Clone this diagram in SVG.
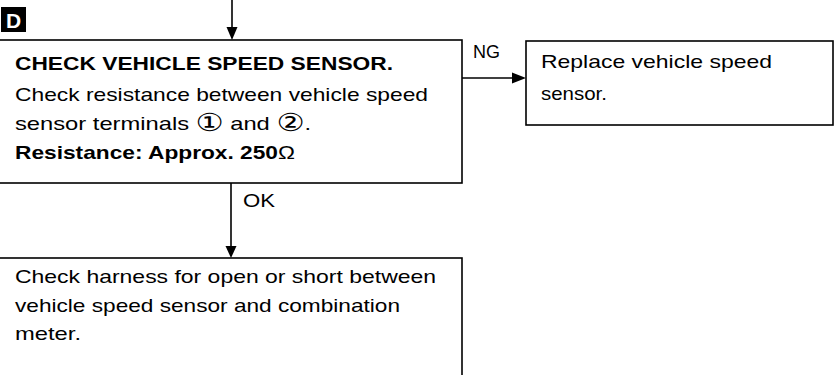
<svg xmlns="http://www.w3.org/2000/svg" width="838" height="375" viewBox="0 0 838 375">
<style>
  .box { fill: #fff; stroke: #000; stroke-width: 1.6; }
  .t { font-family: "Liberation Sans", Arial, "DejaVu Sans", sans-serif; font-size: 19px; fill: #000; }
  .b { font-weight: bold; }
  .circ { font-family: "DejaVu Sans", sans-serif; font-size: 25px; }
  .edge { stroke: #000; stroke-width: 1.6; fill: none; }
  .head { fill: #000; stroke: none; }
</style>
<rect width="838" height="375" fill="#fff"/>
<g id="label-D">
  <rect x="1" y="7" width="25" height="25" fill="#000"/>
  <text x="13.5" y="28" text-anchor="middle" class="t b" style="font-size:21px;fill:#fff">D</text>
</g>
<g id="connectors">
  <line class="edge" x1="232" y1="0" x2="232" y2="30"/>
  <polygon class="head" points="226.5,27 237.5,27 232,40"/>
  <line class="edge" x1="462" y1="78" x2="515" y2="78"/>
  <polygon class="head" points="512,72.5 512,83.5 526,78"/>
  <text class="t" x="473" y="58" textLength="27" lengthAdjust="spacingAndGlyphs">NG</text>
  <line class="edge" x1="231" y1="183" x2="231" y2="248"/>
  <polygon class="head" points="225.5,246 236.5,246 231,258"/>
  <text class="t" x="243" y="207" textLength="32" lengthAdjust="spacingAndGlyphs">OK</text>
</g>
<g id="node-check-sensor">
  <rect class="box" x="-5" y="40" width="467" height="143"/>
  <text class="t b" x="15" y="70" textLength="378" lengthAdjust="spacingAndGlyphs">CHECK VEHICLE SPEED SENSOR.</text>
  <text class="t" x="15" y="101" textLength="413" lengthAdjust="spacingAndGlyphs">Check resistance between vehicle speed</text>
  <text class="t" x="15" y="130" textLength="296" lengthAdjust="spacingAndGlyphs">sensor terminals <tspan class="circ" dy="1">①</tspan><tspan dy="-1"> and </tspan><tspan class="circ" dy="1">②</tspan><tspan dy="-1">.</tspan></text>
  <text class="t b" x="15" y="159" textLength="280" lengthAdjust="spacingAndGlyphs">Resistance: Approx. 250<tspan style="font-weight:normal">Ω</tspan></text>
</g>
<g id="node-replace">
  <rect class="box" x="526" y="41" width="307" height="84"/>
  <text class="t" x="541" y="68" textLength="231" lengthAdjust="spacingAndGlyphs">Replace vehicle speed</text>
  <text class="t" x="541" y="100" textLength="66" lengthAdjust="spacingAndGlyphs">sensor.</text>
</g>
<g id="node-harness">
  <rect class="box" x="-5" y="258" width="467" height="130"/>
  <text class="t" x="15" y="283" textLength="421" lengthAdjust="spacingAndGlyphs">Check harness for open or short between</text>
  <text class="t" x="15" y="312" textLength="385" lengthAdjust="spacingAndGlyphs">vehicle speed sensor and combination</text>
  <text class="t" x="15" y="340" textLength="66" lengthAdjust="spacingAndGlyphs">meter.</text>
</g>
</svg>
